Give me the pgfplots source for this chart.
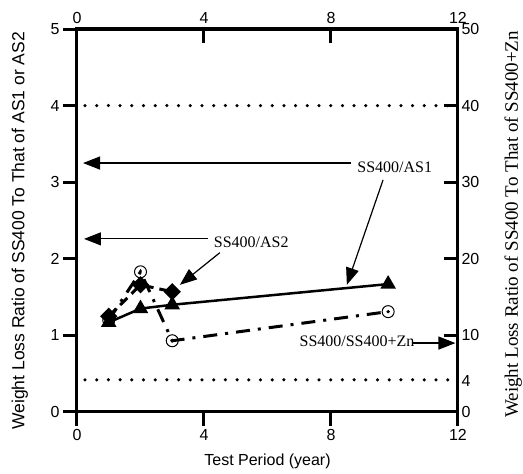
\documentclass[border=0pt]{standalone}
\usepackage{pgfplots}
\pgfplotsset{compat=1.18}
\usetikzlibrary{arrows.meta}
\usepackage{fontspec}
\setmainfont{Liberation Sans}
\newfontfamily\serif{Liberation Serif}
\newcommand\fs{\fontsize{16}{19}\selectfont}

\pgfplotsset{
  frame/.style={
    scale only axis, width=381pt, height=383pt,
    xmin=0, xmax=12, xtick={0,4,8,12},
    axis line style={line width=3pt},
    major tick length=14pt,
    every tick/.style={black, line width=3pt},
    tick label style={font=\fs},
    label style={font=\fs},
    /pgf/number format/assume math mode=true,
    clip=false,
  },
}
\tikzset{
  dotline/.style={black, line width=3.5pt, line cap=round,
    dash pattern=on 0pt off 11.7pt, dash phase=-8pt},
  callout/.style={black, line width=1.2pt,
    -{Triangle[length=17pt,width=13pt]}},
}

\begin{document}
\begin{tikzpicture}
\path[use as bounding box] (-77pt,-62pt) rectangle (446pt,412pt);

% right-hand scale: SS400 / SS400+Zn
\begin{axis}[frame,
  ymin=0, ymax=50, ytick={0,10,20,30,40,50},
  extra y ticks={4}, extra y tick style={major tick length=0pt},
  xtick pos=right, xticklabel pos=right,
  ytick pos=right, yticklabel pos=right,
  tick align=inside,
  xticklabel style={yshift=2pt},
  ylabel={Weight Loss Ratio of SS400 To That of SS400+Zn},
  ylabel style={font=\serif\fontsize{19}{22}\selectfont,
    at={(rel axis cs:1.145,0.49)}, anchor=center},
]
\addplot[dotline] coordinates {(0,4.2) (12,4.2)};
\addplot[black, line width=3pt,
  dash pattern=on 14pt off 8pt on 3pt off 8pt,
  mark=o, mark size=6pt,
  mark options={solid, line width=1pt, fill=white}]
  coordinates {(1,12) (2,18.3) (3,9.3) (9.8,13.1)};
\addplot[only marks, mark=*, mark size=1.5pt, black]
  coordinates {(3,9.3) (9.8,13.1)};
\end{axis}

% left-hand scale: SS400 / AS1 and SS400 / AS2
\begin{axis}[frame,
  ymin=0, ymax=5, ytick={0,1,2,3,4,5},
  xtick pos=left, ytick pos=left,
  tick align=outside,
  xlabel={Test Period (year)},
  xlabel style={at={(rel axis cs:0.5,-0.128)}, anchor=center},
  ylabel={Weight Loss Ratio of SS400 To That of AS1 or AS2},
  ylabel style={font=\fontsize{17.5}{20}\selectfont,
    at={(rel axis cs:-0.15,0.473)}, anchor=center},
]
\addplot[dotline] coordinates {(0,4) (12,4)};
\addplot[black, line width=3pt, dash pattern=on 10pt off 6pt,
  mark=square*, mark size=4.6pt, mark options={solid, rotate=45}]
  coordinates {(1,1.25) (2,1.66) (3,1.57)};
\addplot[black, line width=2.5pt,
  mark=triangle*, mark size=6.5pt, mark options={solid}]
  coordinates {(1,1.17) (2,1.35) (3,1.40) (9.8,1.67)};

% callouts
\draw[callout] (axis cs:8.62,3.25) -- (axis cs:0.19,3.25);
\draw[callout] (axis cs:9.64,3.03) -- (axis cs:8.5,1.66);
\node[anchor=west, font=\serif\fs] at (axis cs:8.72,3.19) {SS400/AS1};
\draw[callout] (axis cs:4.13,2.26) -- (axis cs:0.22,2.26);
\draw[callout] (axis cs:4.5,2.08) -- (axis cs:3.24,1.66);
\node[anchor=west, font=\serif\fs] at (axis cs:4.2,2.21) {SS400/AS2};
\draw[callout] (axis cs:10.58,0.9) -- (axis cs:11.92,0.9);
\node[anchor=west, font=\serif\fs] at (axis cs:6.9,0.93) {SS400/SS400+Zn};
\end{axis}
\end{tikzpicture}
\end{document}
